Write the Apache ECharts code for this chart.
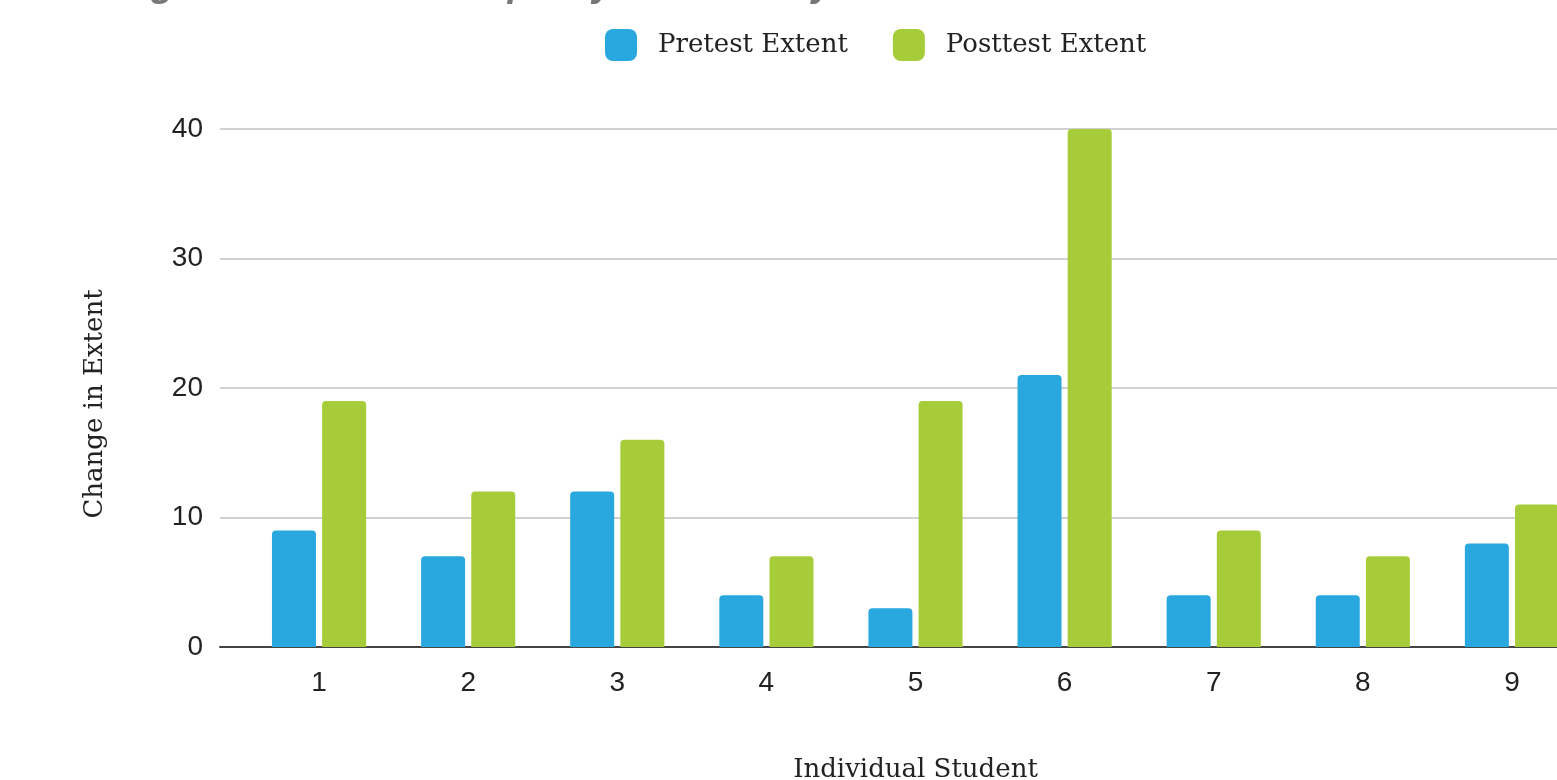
<!DOCTYPE html>
<html>
<head>
<meta charset="utf-8">
<script src="https://cdn.jsdelivr.net/npm/echarts@6/dist/echarts.min.js"></script>
<style>
html,body{margin:0;padding:0;background:#fff;}
#chart{width:1557px;height:780px;}
</style>
</head>
<body>
<div id="chart"></div>
<script>
var titleText = "A High School Bootcamp - Cyber Security";
var categories = ["1","2","3","4","5","6","7","8","9"];
var pretest = [9, 7, 12, 4, 3, 21, 4, 4, 8];
var posttest = [19, 12, 16, 7, 19, 40, 9, 7, 11];
var yTicks = {min: 0, max: 40, interval: 10};

var serif = "DejaVu Serif";
var chart = echarts.init(document.getElementById('chart'));
chart.setOption({
  animation: false,
  backgroundColor: '#ffffff',
  title: {
    text: titleText,
    left: 70,
    top: -38,
    textStyle: {fontFamily: 'Liberation Sans', fontSize: 38, fontWeight: 'bold', fontStyle: 'italic', color: '#777777'}
  },
  legend: {
    left: 600,
    top: 24,
    itemWidth: 32,
    itemHeight: 32,
    itemGap: 45,
    textStyle: {fontFamily: serif, fontSize: 26, color: '#222', padding: [0,0,0,16]},
    data: [
      {name: 'Pretest Extent', icon: 'roundRect'},
      {name: 'Posttest Extent', icon: 'roundRect'}
    ]
  },
  grid: [
    {left: 220, right: 0, top: 129, bottom: 133, outerBoundsMode: 'none', containLabel: false},
    {left: 244.5, right: -29.5, top: 129, bottom: 133, outerBoundsMode: 'none', containLabel: false}
  ],
  xAxis: [
    {
      gridIndex: 0, type: 'value', min: 0, max: 1,
      axisLine: {show: true, onZero: false, lineStyle: {color: '#444', width: 2}},
      axisTick: {show: false}, axisLabel: {show: false}, splitLine: {show: false}
    },
    {
      gridIndex: 1, type: 'category', data: categories,
      axisLine: {show: false}, axisTick: {show: false},
      axisLabel: {margin: 22, fontFamily: 'Liberation Sans', fontSize: 28, color: '#222'},
      name: 'Individual Student', nameLocation: 'middle', nameGap: 110,
      nameTextStyle: {fontFamily: serif, fontSize: 26, color: '#222'}
    }
  ],
  yAxis: [
    {
      gridIndex: 0, type: 'value', min: yTicks.min, max: yTicks.max, interval: yTicks.interval,
      axisLine: {show: false}, axisTick: {show: false},
      axisLabel: {margin: 17, fontFamily: 'Liberation Sans', fontSize: 28, color: '#222'},
      splitLine: {show: true, lineStyle: {color: '#d0d0d0', width: 2}},
      name: 'Change in Extent', nameLocation: 'middle', nameGap: 112, nameRotate: 90,
      nameTextStyle: {fontFamily: serif, fontSize: 26, color: '#222', padding: [0, 32, 0, 0]}
    },
    {
      gridIndex: 1, type: 'value', min: yTicks.min, max: yTicks.max, interval: yTicks.interval,
      show: false, splitLine: {show: false}
    }
  ],
  series: [
    {
      name: 'Pretest Extent', type: 'bar', xAxisIndex: 1, yAxisIndex: 1,
      data: pretest, barWidth: 44, barGap: '14%',
      itemStyle: {color: '#29A8E0', borderRadius: [4,4,0,0]}
    },
    {
      name: 'Posttest Extent', type: 'bar', xAxisIndex: 1, yAxisIndex: 1,
      data: posttest, barWidth: 44, barGap: '14%',
      itemStyle: {color: '#A6CD39', borderRadius: [4,4,0,0]}
    }
  ]
});
</script>
</body>
</html>
